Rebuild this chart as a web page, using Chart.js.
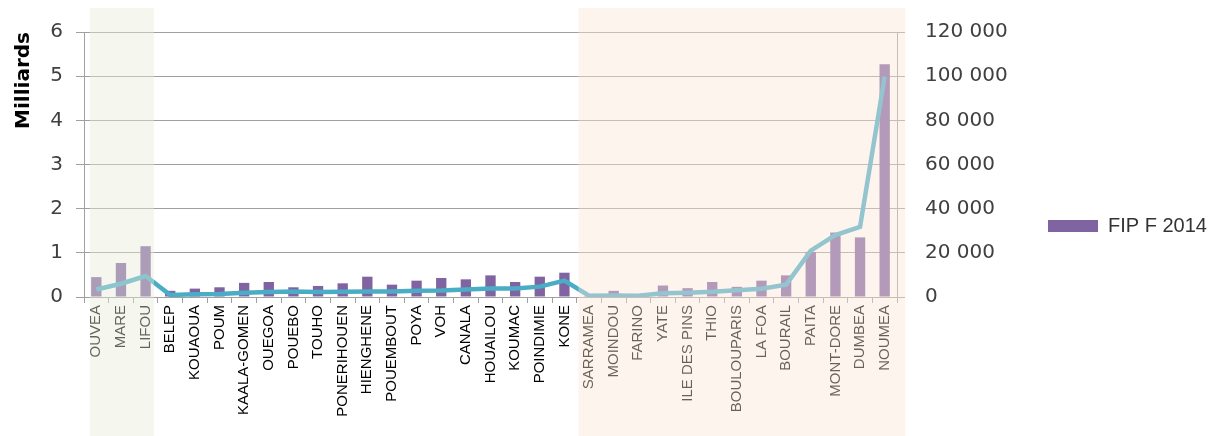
<!DOCTYPE html>
<html>
<head>
<meta charset="utf-8">
<script src="https://cdn.jsdelivr.net/npm/chart.js@4/dist/chart.umd.min.js"></script>
<style>
    html, body { margin: 0; padding: 0; background: #fff; }
    #wrap { width: 1209px; height: 436px; position: relative; }
</style>
</head>
<body>
<div id="wrap"><canvas id="chart"></canvas></div>
<script>
// communes, dans l'ordre du graphique
var communes = ['OUVEA', 'MARE', 'LIFOU',
    'BELEP', 'KOUAOUA', 'POUM', 'KAALA-GOMEN', 'OUEGOA', 'POUEBO', 'TOUHO', 'PONERIHOUEN',
    'HIENGHENE', 'POUEMBOUT', 'POYA', 'VOH', 'CANALA', 'HOUAILOU', 'KOUMAC', 'POINDIMIE', 'KONE',
    'SARRAMEA', 'MOINDOU', 'FARINO', 'YATE', 'ILE DES PINS', 'THIO', 'BOULOUPARIS', 'LA FOA',
    'BOURAIL', 'PAITA', 'MONT-DORE', 'DUMBEA', 'NOUMEA'];
// FIP F 2014, en milliards (axe gauche)
var fipF2014 = [0.45, 0.77, 1.15,
    0.14, 0.19, 0.22, 0.32, 0.34, 0.22, 0.25, 0.31,
    0.46, 0.28, 0.37, 0.43, 0.40, 0.49, 0.34, 0.46, 0.55,
    0.02, 0.14, 0.03, 0.26, 0.20, 0.34, 0.23, 0.37,
    0.49, 1.02, 1.46, 1.35, 5.27];
// population (axe droit)
var population = [3400, 6000, 9500,
    900, 1300, 1400, 1900, 2300, 2500, 2300, 2400,
    2500, 2500, 2800, 2900, 3400, 3900, 3900, 4700, 7400,
    600, 700, 600, 1700, 1950, 2400, 3100, 3700,
    5600, 21000, 28000, 31800, 99800];
var leftMax = 6, leftStep = 1;
var rightMax = 120000, rightStep = 20000;

// zones grisées : iles et province sud
var zones = [
    {first: 'OUVEA', last: 'LIFOU', padL: 0.26, padR: 0.34, color: 'rgba(231,233,214,0.42)'},
    {first: 'SARRAMEA', last: 'NOUMEA', padL: 0.43, padR: 0.83, color: 'rgba(250,229,214,0.42)'}
];

var zonePlugin = {
    id: 'zones',
    afterDraw: function(chart) {
        var x = chart.scales.x;
        var ctx = chart.ctx;
        var w = x.getPixelForValue(1) - x.getPixelForValue(0);
        zones.forEach(function(z) {
            var left = x.getPixelForValue(communes.indexOf(z.first)) - z.padL * w;
            var right = x.getPixelForValue(communes.indexOf(z.last)) + z.padR * w;
            ctx.save();
            ctx.fillStyle = z.color;
            ctx.fillRect(left, 8, right - left, chart.height - 8);
            ctx.restore();
        });
    }
};

function spaced(v) {
    return String(v).replace(/\B(?=(\d{3})+(?!\d))/g, ' ');
}

var gridColor = '#a0a0a0';
var numFont = {family: 'DejaVu Sans', size: 20};

new Chart(document.getElementById('chart'), {
    data: {
        labels: communes,
        datasets: [{
            type: 'line',
            label: 'Population',
            data: population,
            yAxisID: 'y1',
            borderColor: '#4bacc6',
            borderWidth: 4.5,
            pointRadius: 0,
            tension: 0,
            order: 0
        }, {
            type: 'bar',
            label: 'FIP F 2014',
            data: fipF2014,
            yAxisID: 'y',
            backgroundColor: '#8064a2',
            barPercentage: 0.42,
            categoryPercentage: 1,
            order: 1
        }]
    },
    options: {
        responsive: true,
        maintainAspectRatio: false,
        devicePixelRatio: 1,
        animation: false,
        layout: {padding: {top: 16, right: 0, left: 0, bottom: 0}},
        plugins: {
            tooltip: {enabled: false},
            legend: {
                position: 'right',
                maxWidth: 163,
                labels: {
                    boxWidth: 50,
                    boxHeight: 12,
                    padding: 2,
                    color: '#333',
                    font: {family: 'Liberation Sans', size: 20},
                    filter: function(item) { return item.text === 'FIP F 2014'; }
                }
            }
        },
        scales: {
            x: {
                grid: {display: true, drawOnChartArea: false, offset: true, color: gridColor, tickLength: 6},
                border: {color: gridColor},
                ticks: {
                    minRotation: 90, maxRotation: 90, autoSkip: false, padding: 2,
                    color: '#000', font: {family: 'Liberation Sans', size: 15}
                },
                afterFit: function(s) { s.height = 139; }
            },
            y: {
                position: 'left',
                min: 0, max: leftMax,
                grid: {color: gridColor, tickLength: 8},
                border: {color: gridColor},
                ticks: {stepSize: leftStep, padding: 13, color: '#404040', font: numFont},
                title: {
                    display: true, text: 'Milliards', color: '#000', align: 'end',
                    font: {family: 'DejaVu Sans', size: 20, weight: 'bold'},
                    padding: {top: 12, bottom: 0}
                },
                afterFit: function(s) { s.width = 84; }
            },
            y1: {
                position: 'right',
                min: 0, max: rightMax,
                grid: {drawOnChartArea: false, color: gridColor, tickLength: 8},
                border: {color: gridColor},
                ticks: {
                    stepSize: rightStep, padding: 20, color: '#404040', font: numFont,
                    callback: function(v) { return spaced(v); }
                },
                afterFit: function(s) { s.width = 149; }
            }
        }
    },
    plugins: [zonePlugin]
});
</script>
</body>
</html>
